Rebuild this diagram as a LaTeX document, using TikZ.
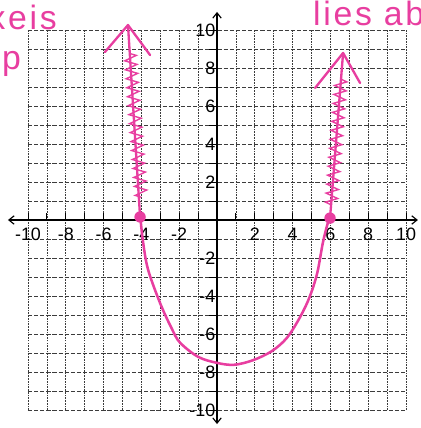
\documentclass[tikz,border=0pt]{standalone}
\usepackage{fontspec}
\setmainfont{Liberation Sans}
\newfontfamily\handfont[LetterSpace=8]{Liberation Sans}
\usetikzlibrary{arrows.meta,decorations.pathmorphing}
\definecolor{pen}{RGB}{232,62,160}
\definecolor{gridc}{RGB}{60,60,60}
\tikzset{
  vgrid/.style={gridc, line width=0.6pt, dash pattern=on 1.6pt off 1pt},
  hgrid/.style={gridc, line width=0.6pt, dash pattern=on 4pt off 1.8pt},
  axisline/.style={black, line width=1.1pt},
  axisarrows/.style={axisline, {Straight Barb[length=5pt,width=8pt]}-{Straight Barb[length=5pt,width=8pt]}},
  tickline/.style={black, line width=0.9pt},
  numlab/.style={inner sep=0pt, font=\fontsize{17}{17}\selectfont},
  curveline/.style={pen, line width=2.4pt, line cap=round, line join=round},
  arrowline/.style={pen, line width=2.2pt, line cap=round, line join=round},
  hatchline/.style={pen, line width=1.3pt, decorate, decoration={zigzag, segment length=0.3cm, amplitude=0.2cm}},
  rootdot/.style={circle, fill=pen, inner sep=0pt, minimum size=0.38cm},
  handtext/.style={pen, inner sep=0pt, font=\handfont\fontsize{32}{32}\selectfont}
}
\begin{document}
\begin{tikzpicture}[x=0.63cm, y=0.6333cm]
\useasboundingbox (-11.481,-10.947) rectangle (10.741,11.579);
\fill[white] (-11.481,-10.947) rectangle (10.741,11.579);

% grid
\foreach \i in {-10,...,10} {
  \ifnum\i=0\relax\else
    \draw[vgrid] (\i,-10) -- (\i,10);
    \draw[hgrid] (-10,\i) -- (10,\i);
  \fi
}

% axes
\coordinate (xleft) at (-11.06,0);
\coordinate (xright) at (10.63,0);
\coordinate (ytop) at (0,10.95);
\coordinate (ybot) at (0,-10.74);
\draw[axisarrows] (xleft) -- (xright);
\draw[axisarrows] (ybot) -- (ytop);

% ticks
\foreach \i in {-10,...,10} {
  \ifnum\i=0\relax\else
    \draw[tickline] (\i,0) -- (\i,0.35);
    \draw[tickline] (-0.45,\i) -- (0,\i);
  \fi
}

% labels
\foreach \i in {-10,-8,-6,-4,-2,2,4,6,8,10} {
  \node[numlab] (xl\i) at (\i,-0.74) {\i};
  \node[numlab, anchor=east] (yl\i) at (-0.08,\i) {\i};
}

% parabola
\draw[curveline] plot[smooth, tension=0.55] coordinates {
  (-4.05,0.1) (-3.92,-1.1) (-3.65,-2.6) (-3.0,-4.4) (-2.4,-5.7) (-1.96,-6.45)
  (-1,-7.2) (0,-7.52) (0.9,-7.62) (1.9,-7.38) (2.9,-6.9) (3.7,-6.2)
  (4.4,-5.1) (4.9,-4.05) (5.3,-2.8) (5.6,-1.2) (5.85,-0.2) (5.98,0.1)};

% root dots
\node[rootdot] (r1) at (-4.07,0.16) {};
\node[rootdot] (r2) at (5.98,0.1) {};

% left arrow up
\coordinate (Ltip) at (-4.71,10.26);
\coordinate (Lbl) at (-5.93,8.84);
\coordinate (Lbr) at (-3.54,8.68);
\coordinate (Lh1) at (-4.005,1.2);
\coordinate (Lh2) at (-4.61,8.95);
\draw[arrowline] (r1.center) -- (Ltip);
\draw[arrowline] (Lbl) -- (Ltip) -- (Lbr);
\draw[hatchline] (Lh1) -- (Lh2);

% right arrow up
\coordinate (Rtip) at (6.67,8.79);
\coordinate (Rbl) at (5.19,6.95);
\coordinate (Rbr) at (7.57,7.21);
\coordinate (Rh1) at (6.04,0.8);
\coordinate (Rh2) at (6.58,7.6);
\draw[arrowline] (r2.center) -- (Rtip);
\draw[arrowline] (Rbl) -- (Rtip) -- (Rbr);
\draw[hatchline] (Rh1) -- (Rh2);

% handwritten notes
\node[handtext, anchor=base east] (noteA) at (-8.47,10.0) {xeis};
\node[handtext, anchor=base west] (noteB) at (-11.38,7.9) {p};
\node[handtext, anchor=base west] (noteC) at (5.08,10.26) {lies ab};
\end{tikzpicture}
\end{document}
